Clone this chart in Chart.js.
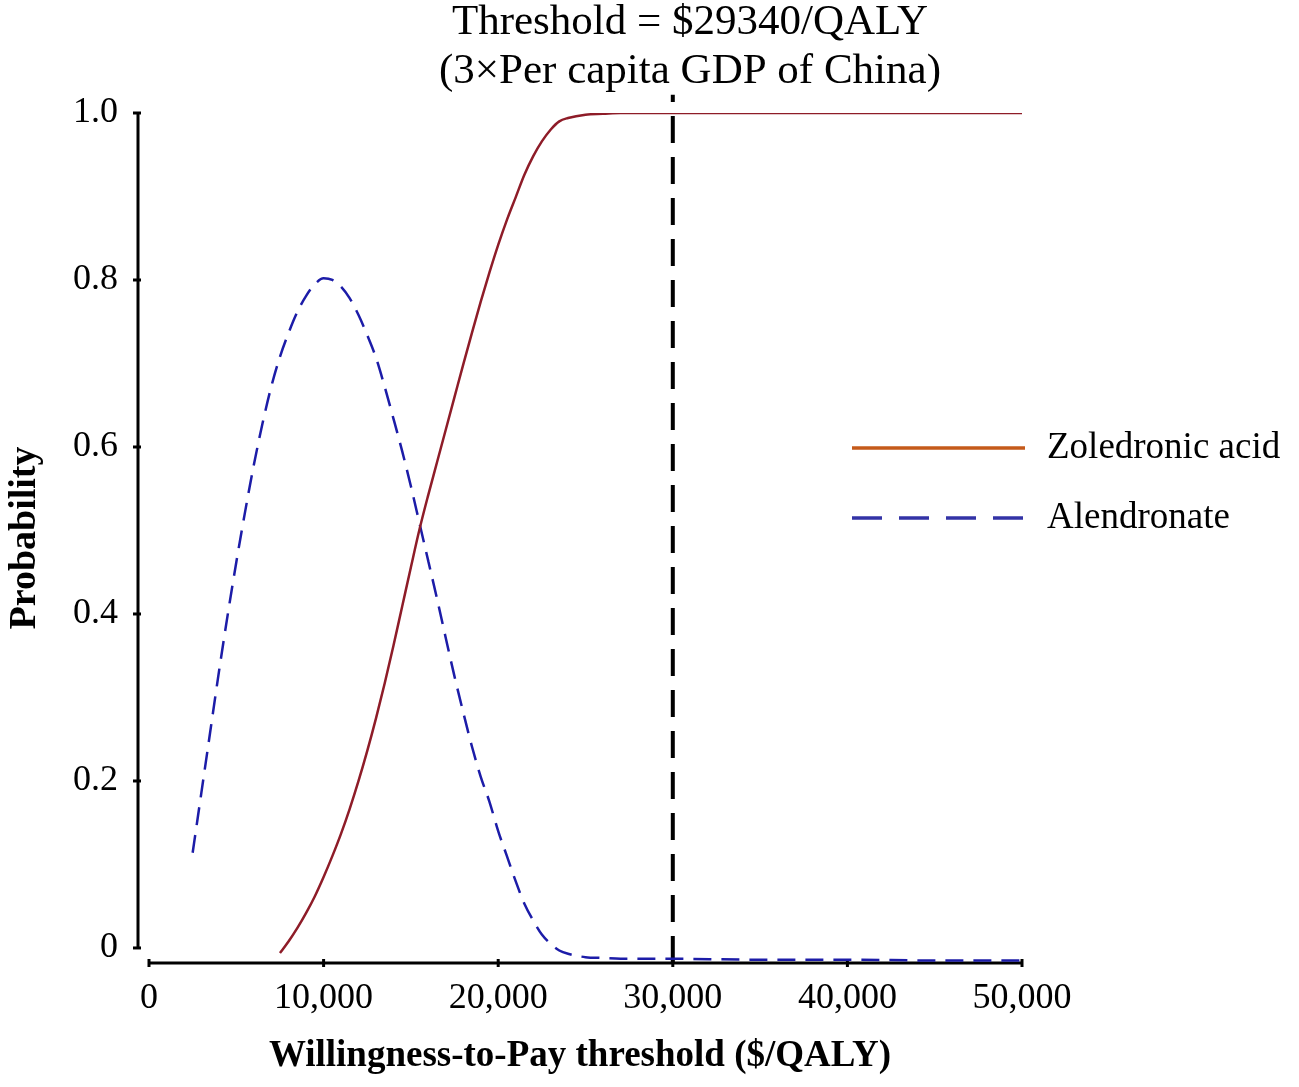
<!DOCTYPE html>
<html>
<head>
<meta charset="utf-8">
<script src="https://cdn.jsdelivr.net/npm/chart.js@4.4.1/dist/chart.umd.min.js"></script>
<style>
html,body{margin:0;padding:0;background:#ffffff;}
#wrap{position:relative;width:1299px;height:1087px;}
</style>
</head>
<body>
<div id="wrap"><canvas id="c"></canvas></div>
<script>
// ---- Text ----
const titleLines = ['Threshold = $29340/QALY', '(3\u00d7Per capita GDP of China)'];
const xAxisTitle = 'Willingness-to-Pay threshold ($/QALY)';
const yAxisTitle = 'Probability';
const seriesNames = ['Zoledronic acid', 'Alendronate'];

// ---- Ticks ----
const xTickValues = [0, 10000, 20000, 30000, 40000, 50000];
const yTickValues = [0, 0.2, 0.4, 0.6, 0.8, 1.0];

// ---- Threshold marker (WTP, $/QALY) ----
const thresholdWTP = 30000;
const thresholdSpan = [-0.018, 1.022];

// ---- Series: Zoledronic acid ----
const zoledronicX = [7500, 8000, 8500, 9000, 9500, 10000, 10500, 11000, 11500, 12000, 12500, 13000, 13500, 14000, 14500, 15000, 15500, 16000, 16500, 17000, 17500, 18000, 18500, 19000, 19500, 20000, 20500, 21000, 21500, 22000, 22500, 23000, 23500, 24000, 25000, 26000, 27000, 30000, 35000, 40000, 45000, 50000];
const zoledronicY = [-0.006, 0.008, 0.024, 0.042, 0.062, 0.085, 0.110, 0.137, 0.167, 0.200, 0.236, 0.275, 0.317, 0.362, 0.409, 0.456, 0.502, 0.543, 0.582, 0.621, 0.660, 0.699, 0.737, 0.774, 0.809, 0.842, 0.872, 0.899, 0.926, 0.948, 0.966, 0.980, 0.990, 0.994, 0.998, 0.999, 1.0, 1.0, 1.0, 1.0, 1.0, 1.0];

// ---- Series: Alendronate ----
const alendronateX = [2500, 3000, 3500, 4000, 4500, 5000, 5500, 6000, 6500, 7000, 7500, 8000, 8500, 9000, 9500, 10000, 10500, 11000, 11500, 12000, 12500, 13000, 13500, 14000, 14500, 15000, 15500, 16000, 16500, 17000, 17500, 18000, 18500, 19000, 19500, 20000, 20500, 21000, 21500, 22000, 22500, 23000, 23500, 24000, 25000, 26000, 27000, 30000, 35000, 40000, 45000, 50000];
const alendronateY = [0.114, 0.186, 0.258, 0.330, 0.398, 0.462, 0.522, 0.578, 0.628, 0.672, 0.708, 0.737, 0.762, 0.781, 0.795, 0.802, 0.800, 0.792, 0.778, 0.758, 0.734, 0.707, 0.672, 0.634, 0.595, 0.553, 0.508, 0.463, 0.418, 0.371, 0.325, 0.282, 0.241, 0.205, 0.175, 0.140, 0.110, 0.080, 0.053, 0.033, 0.016, 0.005, -0.003, -0.007, -0.011, -0.012, -0.013, -0.013, -0.014, -0.014, -0.015, -0.015];

const SERIF = '"Liberation Serif", "Times New Roman", serif';

function pts(xs, ys) { return xs.map((x, i) => ({x: x, y: ys[i]})); }

const decor = {
  id: 'decor',
  beforeDatasetsDraw(chart) {
    const ctx = chart.ctx, xs = chart.scales.x, ys = chart.scales.y, ca = chart.chartArea;
    ctx.save();
    ctx.strokeStyle = '#000';
    ctx.lineWidth = 3;
    ctx.lineCap = 'butt';
    // y axis
    const ax = ca.left;
    ctx.beginPath();
    ctx.moveTo(ax, ys.getPixelForValue(yTickValues[0]));
    ctx.lineTo(ax, ys.getPixelForValue(yTickValues[yTickValues.length - 1]));
    ctx.stroke();
    yTickValues.forEach(v => {
      const p = ys.getPixelForValue(v);
      ctx.beginPath(); ctx.moveTo(ax - 5, p); ctx.lineTo(ax + 3, p); ctx.stroke();
    });
    // x axis
    const ay = ca.bottom;
    ctx.beginPath();
    ctx.moveTo(xs.getPixelForValue(xTickValues[0]), ay);
    ctx.lineTo(xs.getPixelForValue(xTickValues[xTickValues.length - 1]), ay);
    ctx.stroke();
    xTickValues.forEach(v => {
      const p = xs.getPixelForValue(v);
      ctx.beginPath(); ctx.moveTo(p, ay - 4); ctx.lineTo(p, ay + 4); ctx.stroke();
    });
    ctx.restore();
  },
  afterDraw(chart) {
    const ctx = chart.ctx;
    ctx.save();
    // title
    ctx.fillStyle = '#000';
    ctx.font = '43px ' + SERIF;
    ctx.textAlign = 'center';
    ctx.textBaseline = 'middle';
    titleLines.forEach((t, i) => ctx.fillText(t, 690, 23 + i * 49));
    // legend
    const items = chart.data.datasets.filter(d => d.legendColor);
    items.forEach((d, i) => {
      const y = 448 + i * 70;
      ctx.strokeStyle = d.legendColor;
      ctx.lineWidth = 3.5;
      ctx.setLineDash(d.legendDash || []);
      ctx.beginPath(); ctx.moveTo(852, y); ctx.lineTo(1025, y); ctx.stroke();
      ctx.setLineDash([]);
      ctx.fillStyle = '#000';
      ctx.font = '37px ' + SERIF;
      ctx.textAlign = 'left';
      ctx.textBaseline = 'middle';
      ctx.fillText(d.label, 1047, y);
    });
    ctx.restore();
  }
};

new Chart(document.getElementById('c'), {
  type: 'line',
  data: {
    datasets: [
      {
        label: seriesNames[0],
        data: pts(zoledronicX, zoledronicY),
        borderColor: '#8E1C28',
        borderWidth: 2.5,
        pointRadius: 0,
        cubicInterpolationMode: 'monotone',
        fill: false,
        legendColor: '#C55A1A'
      },
      {
        label: seriesNames[1],
        data: pts(alendronateX, alendronateY),
        borderColor: '#1C1CA8',
        borderWidth: 2.5,
        borderDash: [18, 10],
        pointRadius: 0,
        cubicInterpolationMode: 'monotone',
        fill: false,
        legendColor: '#3333A6',
        legendDash: [30, 17]
      },
      {
        label: 'Threshold',
        data: [{x: thresholdWTP, y: thresholdSpan[0]}, {x: thresholdWTP, y: thresholdSpan[1]}],
        borderColor: '#000',
        borderWidth: 4,
        borderDash: [27, 14],
        pointRadius: 0,
        fill: false,
        clip: false
      }
    ]
  },
  options: {
    responsive: true,
    maintainAspectRatio: false,
    animation: false,
    layout: {padding: {top: 113, left: 0, right: 277, bottom: 0}},
    plugins: {
      legend: {display: false},
      title: {display: false},
      tooltip: {enabled: false}
    },
    scales: {
      x: {
        type: 'linear',
        min: -630,
        max: 50000,
        grid: {display: false},
        border: {display: false},
        afterBuildTicks: s => { s.ticks = xTickValues.map(v => ({value: v})); },
        afterFit: s => { s.height = 124; },
        ticks: {
          autoSkip: false,
          maxRotation: 0,
          padding: 6,
          color: '#000',
          font: {family: SERIF, size: 36},
          callback: v => v.toLocaleString('en-US')
        },
        title: {
          display: true,
          text: xAxisTitle,
          color: '#000',
          font: {family: SERIF, size: 37, weight: 'bold'},
          padding: {top: 0, bottom: 8}
        }
      },
      y: {
        type: 'linear',
        min: -0.018,
        max: 1.0,
        grid: {display: false},
        border: {display: false},
        afterBuildTicks: s => { s.ticks = yTickValues.map(v => ({value: v})); },
        afterFit: s => { s.width = 138; },
        ticks: {
          padding: 12,
          color: '#000',
          font: {family: SERIF, size: 36},
          callback: v => (v === 0 ? '0' : v.toFixed(1))
        },
        title: {
          display: true,
          text: yAxisTitle,
          color: '#000',
          font: {family: SERIF, size: 38, weight: 'bold'},
          padding: {top: 2, bottom: 0}
        }
      }
    }
  },
  plugins: [decor]
});
</script>
</body>
</html>
